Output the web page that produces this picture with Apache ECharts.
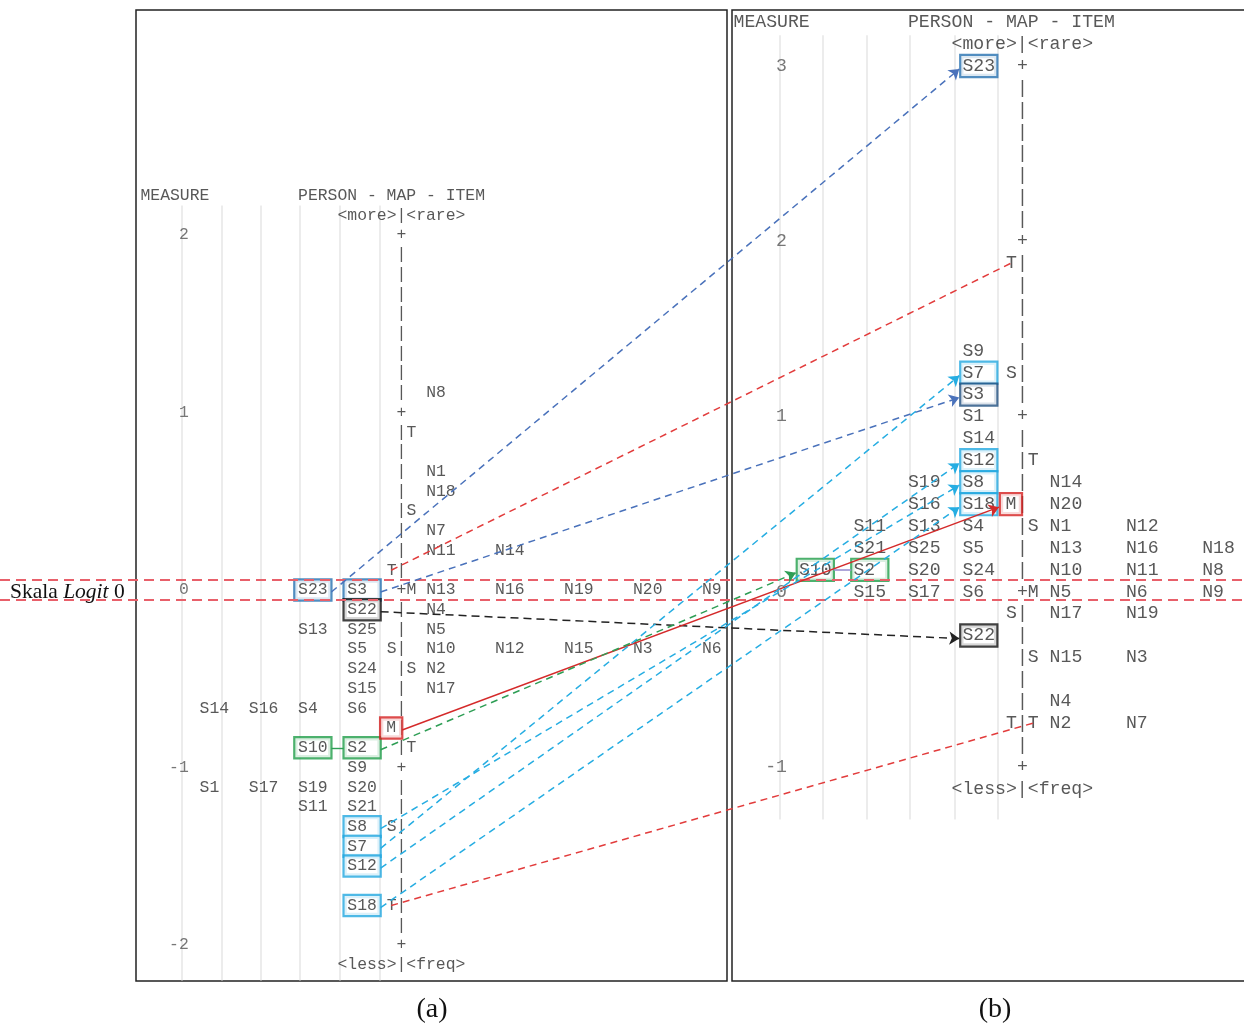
<!DOCTYPE html>
<html>
<head>
<meta charset="utf-8">
<script src="https://cdn.jsdelivr.net/npm/echarts@6/dist/echarts.min.js"></script>
<style>
html,body{margin:0;padding:0;background:#fff;}
#c{width:1244px;height:1025px;}
</style>
</head>
<body>
<div id="c"></div>
<script>
// ================= DATA =================
// Rows are map levels: panel (a) 9 rows per logit, panel (b) 8 rows per logit.
// ---- panel (a)
const aMeasureTicks = [[18,'2'],[9,'1'],[0,'0'],[-9,'-1'],[-18,'-2']];
const aPersonRows = [
  [0,['S23','S3']],[-1,['S22']],[-2,['S13','S25']],[-3,['S5']],[-4,['S24']],[-5,['S15']],
  [-6,['S14','S16','S4','S6']],[-8,['S10','S2']],[-9,['S9']],[-10,['S1','S17','S19','S20']],
  [-11,['S11','S21']],[-12,['S8']],[-13,['S7']],[-14,['S12']],[-16,['S18']]
];
const aItemRows = [
  [10,['N8']],[6,['N1']],[5,['N18']],[3,['N7']],[2,['N11','N14']],
  [0,['N13','N16','N19','N20','N9']],[-1,['N4']],[-2,['N5']],
  [-3,['N10','N12','N15','N3','N6']],[-4,['N2']],[-5,['N17']]
];
const aPersonMarks = [[1,'T'],[-3,'S'],[-7,'M'],[-12,'S'],[-16,'T']];
const aItemMarks = [[8,'T'],[4,'S'],[0,'M'],[-4,'S'],[-8,'T']];
const aBoxed = [['S23','blue'],['S3','blue'],['S22','black'],['S10','green'],['S2','green'],
  ['S8','cyan'],['S7','cyan'],['S12','cyan'],['S18','cyan'],['M','red']];

// ---- panel (b)
const bMeasureTicks = [[24,'3'],[16,'2'],[8,'1'],[0,'0'],[-8,'-1']];
const bPersonRows = [
  [24,['S23']],[11,['S9']],[10,['S7']],[9,['S3']],[8,['S1']],[7,['S14']],[6,['S12']],
  [5,['S19','S8']],[4,['S16','S18']],[3,['S11','S13','S4']],[2,['S21','S25','S5']],
  [1,['S10','S2','S20','S24']],[0,['S15','S17','S6']],[-2,['S22']]
];
const bItemRows = [
  [5,['N14']],[4,['N20']],[3,['N1','N12']],[2,['N13','N16','N18']],[1,['N10','N11','N8']],
  [0,['N5','N6','N9']],[-1,['N17','N19']],[-3,['N15','N3']],[-5,['N4']],[-6,['N2','N7']]
];
const bPersonMarks = [[15,'T'],[10,'S'],[4,'M'],[-1,'S'],[-6,'T']];
const bItemMarks = [[6,'T'],[3,'S'],[0,'M'],[-3,'S'],[-6,'T']];
const bBoxed = [['S23','blue'],['S7','cyan'],['S3','navy'],['S12','cyan'],['S8','cyan'],['S18','cyan'],
  ['M','red'],['S10','green'],['S2','green'],['S22','black']];

// ---- links between the two maps: [token in (a), token in (b), style]
const links = [
  ['S23','S23','blue'],['S3','S3','blue'],['S22','S22','black'],['M','M','redSolid'],
  ['S2','S10','green'],['S8','S8','cyan'],['S7','S7','cyan'],['S12','S12','cyan'],['S18','S18','cyan']
];
const tLinks = [[1,15],[-16,-6]]; // rows of the person-side T marks in (a) and (b)

// ================= LAYOUT / STYLE =================
const FONT = '"Liberation Mono","Courier New",monospace';
const SERIF = '"Liberation Serif","Times New Roman",serif';
const TXT = '#2e2e2e';
const BOX_COLORS = {blue:'#2670b0', navy:'#1f4f80', cyan:'#22a8e0', green:'#1f9e48', red:'#d41f1f', black:'#111'};
const LINK_STYLES = {
  blue:{color:'#4a72bb', type:[7,5], arrow:true},
  cyan:{color:'#26ade2', type:[7,5], arrow:true},
  black:{color:'#222', type:[8,5], arrow:true},
  green:{color:'#2e9e55', type:[7,5], arrow:true},
  redSolid:{color:'#d42a2a', type:'solid', arrow:true},
  redDash:{color:'#e23c3c', type:[7,5], arrow:false}
};
const PERSON_END = 21, PERSON_STEP = 5, ITEM_START = 29, ITEM_STEP = 7;
const BAR_COL = 26, PMARK_COL = 25, IMARK_COL = 27;
const GUIDE_COLS = [4.25, 8.25, 12.25, 16.25, 20.3, 24.3];

const panels = [
  {grid:{left:136, top:10, width:591, height:971, show:true, borderColor:'#222', borderWidth:1.5,
         backgroundColor:'transparent', outerBoundsMode:'none', containLabel:false},
   x:[-0.406, 59.594], y:[-19.828, 29.412], fs:16.4, lh:17, ph:2.75, phM:5.1,
   header:20, footer:-19, barTop:18, barBottom:-18, rpl:9, guide:[19.5,-19.8],
   ticks:aMeasureTicks, personRows:aPersonRows, itemRows:aItemRows, pMarks:aPersonMarks, iMarks:aItemMarks, boxed:aBoxed},
  {grid:{left:732, top:10, width:540, height:971, show:true, borderColor:'#222', borderWidth:1.5,
         backgroundColor:'transparent', outerBoundsMode:'none', containLabel:false},
   x:[-0.0917, 49.45], y:[-17.769, 26.557], fs:18.17, lh:18, ph:1.15, phM:4.55,
   header:26, footer:-9, barTop:24, barBottom:-8, rpl:8, guide:[25.4,-10.4],
   ticks:bMeasureTicks, personRows:bPersonRows, itemRows:bItemRows, pMarks:bPersonMarks, iMarks:bItemMarks, boxed:bBoxed}
];

function layoutPanel(d) {
  const plain = [], boxed = [], pos = {};
  const boxMap = Object.fromEntries(d.boxed);
  const put = (c, r, t, boxable) => {
    pos[t + '@' + r] = {c, r};
    if (!pos[t]) pos[t] = {c, r};
    if (boxable && boxMap[t]) boxed.push({t, c, r, color: boxMap[t]});
    else plain.push({value:[c, r], name:t});
  };
  plain.push({value:[0, d.header], name:'MEASURE'});
  plain.push({value:[16, d.header], name:'PERSON - MAP - ITEM'});
  plain.push({value:[20, d.header - 1], name:'<more>|<rare>'});
  plain.push({value:[20, d.footer], name:'<less>|<freq>'});
  for (let r = d.barTop; r >= d.barBottom; r--) put(BAR_COL, r, (r % d.rpl === 0) ? '+' : '|', false);
  d.personRows.forEach(([r, names]) => names.forEach((n, i) =>
    put(PERSON_END - PERSON_STEP * (names.length - 1 - i), r, n, true)));
  d.itemRows.forEach(([r, names]) => names.forEach((n, i) => put(ITEM_START + ITEM_STEP * i, r, n, false)));
  d.pMarks.forEach(([r, m]) => put(PMARK_COL, r, m, true));
  d.iMarks.forEach(([r, m]) => put(IMARK_COL, r, m, false));
  d.plain = plain; d.boxedTokens = boxed; d.pos = pos;
}
panels.forEach(layoutPanel);

function panelSeries(pi) {
  const d = panels[pi];
  const base = {xAxisIndex: pi, yAxisIndex: pi, silent: true, animation: false};
  return [
    Object.assign({}, base, {
      type:'lines', coordinateSystem:'cartesian2d', z:1,
      lineStyle:{color:'#e6e6e6', width:1.5, opacity:1},
      data: GUIDE_COLS.map(c => ({coords:[[c, d.guide[0]], [c, d.guide[1]]]}))
    }),
    Object.assign({}, base, {
      type:'scatter', z:3, symbol:'circle', symbolSize:1, itemStyle:{color:'rgba(0,0,0,0)'},
      label:{show:true, position:'right', distance:0, formatter:'{b}', fontFamily:FONT, fontSize:d.fs, color:TXT},
      data: d.plain
    }),
    Object.assign({}, base, {
      type:'scatter', z:3, symbol:'circle', symbolSize:1, itemStyle:{color:'rgba(0,0,0,0)'},
      label:{show:true, position:'left', distance:0, formatter:'{b}', fontFamily:FONT, fontSize:d.fs, color:'#555'},
      data: d.ticks.map(([r, t]) => ({value:[5, r], name:t}))
    }),
    Object.assign({}, base, {
      type:'scatter', z:4, symbol:'circle', symbolSize:1, itemStyle:{color:'rgba(0,0,0,0)'},
      label:{show:true, position:'inside', formatter:'{b}', fontFamily:FONT, fontSize:d.fs, color:TXT,
        lineHeight:d.lh, padding:[1, d.ph], borderWidth:2.2, backgroundColor:'#fff'},
      data: d.boxedTokens.map(b => {
        const one = b.t.length === 1;
        return {value:[one ? b.c + 0.5 : b.c + 1.55, b.r], name: one ? b.t : b.t.padEnd(3),
          label:{borderColor: BOX_COLORS[b.color], padding: one ? [1, d.phM] : [1, d.ph]}};
      })
    })
  ];
}

const chart = echarts.init(document.getElementById('c'), null, {renderer:'canvas'});

function buildOption(extraSeries, graphics) {
  return {
    animation:false,
    grid:[panels[0].grid, panels[1].grid,
      {left:0, top:0, width:1244, height:1025, show:false, outerBoundsMode:'none', containLabel:false}],
    xAxis:[
      {type:'value', gridIndex:0, min:panels[0].x[0], max:panels[0].x[1], show:false},
      {type:'value', gridIndex:1, min:panels[1].x[0], max:panels[1].x[1], show:false},
      {type:'value', gridIndex:2, min:0, max:1244, show:false}
    ],
    yAxis:[
      {type:'value', gridIndex:0, min:panels[0].y[0], max:panels[0].y[1], show:false},
      {type:'value', gridIndex:1, min:panels[1].y[0], max:panels[1].y[1], show:false},
      {type:'value', gridIndex:2, min:0, max:1025, inverse:true, show:false}
    ],
    series: panelSeries(0).concat(panelSeries(1), extraSeries || []),
    graphic: graphics || []
  };
}

chart.setOption(buildOption());

// ---- connectors computed through the panels' own scales
const toPx = (pi, c, r) => chart.convertToPixel({gridIndex: pi}, [c, r]);
function boxEdge(pi, key, side) {
  const p = panels[pi].pos[key];
  const one = key === 'M';
  const [x, y] = toPx(pi, one ? p.c + 0.5 : p.c + 1.55, p.r);
  const half = one ? 11 : 18.5;
  return [x + side * half, y];
}
const groups = {};
links.forEach(([a, b, s]) => {
  const s0 = boxEdge(0, a, 1), e0 = boxEdge(1, b, -1);
  (groups[s] = groups[s] || []).push({coords:[[s0[0], s0[1] + 2], [e0[0] - 1, e0[1] + 3]]});
});
tLinks.forEach(([ra, rb]) => {
  const pa = panels[0].pos['T@' + ra], pb = panels[1].pos['T@' + rb];
  (groups.redDash = groups.redDash || []).push({coords:[toPx(0, pa.c + 0.5, pa.r), toPx(1, pb.c + 0.5, pb.r)]});
});
const overlay = {xAxisIndex:2, yAxisIndex:2, type:'lines', coordinateSystem:'cartesian2d', silent:true, z:6};
const extra = Object.keys(groups).map(k => Object.assign({}, overlay, {
  symbol: LINK_STYLES[k].arrow ? ['none', 'arrow'] : ['none', 'none'], symbolSize: 10,
  lineStyle:{color:LINK_STYLES[k].color, type:LINK_STYLES[k].type, width:1.5, opacity:1},
  data: groups[k]
}));
// short joins between the paired boxes S10-S2
const j0a = boxEdge(0, 'S10', 1), j0b = boxEdge(0, 'S2', -1);
const j1a = boxEdge(1, 'S10', 1), j1b = boxEdge(1, 'S2', -1);
extra.push(Object.assign({}, overlay, {symbol:['none','none'], lineStyle:{color:'#2e9e55', width:1.4, opacity:1},
  data:[{coords:[j0a, j0b]}]}));
extra.push(Object.assign({}, overlay, {symbol:['none','none'], lineStyle:{color:'#9a8fd0', width:1.6, opacity:1},
  data:[{coords:[j1a, j1b]}]}));
// logit-0 band
const yTop = toPx(0, 0, 0.5)[1], yBot = toPx(0, 0, -0.5)[1];
extra.push(Object.assign({}, overlay, {z:5, symbol:['none','none'],
  lineStyle:{color:'#e8606a', type:[10,6], width:2, opacity:1},
  data:[{coords:[[0, yTop], [1244, yTop]]}, {coords:[[0, yBot], [1244, yBot]]}]}));

const yZero = toPx(0, 0, 0)[1];
const graphics = [
  {type:'text', x:10, y:yZero + 2, style:{text:'{n|Skala }{i|Logit}{n| 0}', verticalAlign:'middle',
    rich:{n:{fontFamily:SERIF, fontSize:21.5, fill:'#111'}, i:{fontFamily:SERIF, fontSize:21.5, fontStyle:'italic', fill:'#111'}}}},
  {type:'text', x:432, y:1010, style:{text:'(a)', fontFamily:SERIF, fontSize:28, fill:'#111', align:'center', verticalAlign:'middle'}},
  {type:'text', x:995, y:1010, style:{text:'(b)', fontFamily:SERIF, fontSize:28, fill:'#111', align:'center', verticalAlign:'middle'}}
];

chart.setOption(buildOption(extra, graphics), true);
</script>
</body>
</html>
